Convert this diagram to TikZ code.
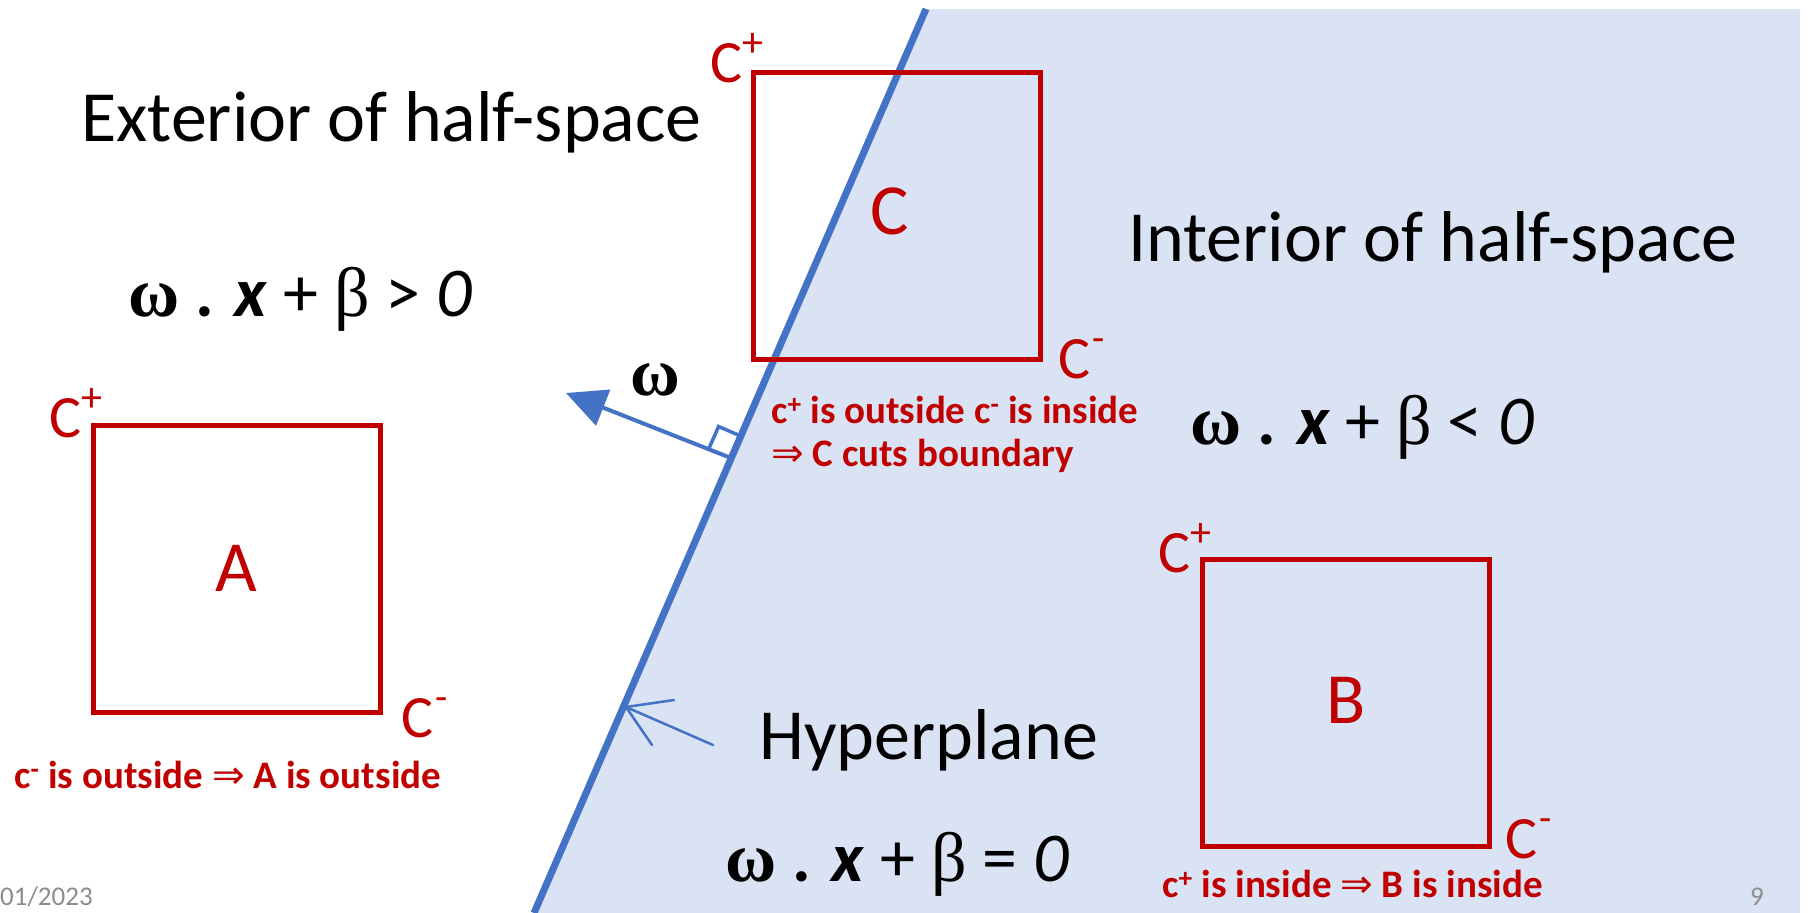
\documentclass[tikz,border=0pt]{standalone}
\usepackage{fontspec}
\setmainfont{Carlito}
\newfontfamily\serifgreek{Liberation Serif}
\newfontfamily\arrowfont{DejaVu Sans}
\usetikzlibrary{arrows.meta}
\definecolor{boxred}{HTML}{C00000}
\definecolor{planeblue}{HTML}{4472C4}
\definecolor{halffill}{HTML}{DAE3F3}
\definecolor{footgray}{HTML}{8C8C8C}
\newcommand{\cplus}{C\raisebox{0.42em}{\fontsize{42}{42}\selectfont +}}
\newcommand{\cminus}{C\kern2pt\raisebox{0.45em}{\fontsize{40}{40}\selectfont -}}
\newcommand{\implies}{{\arrowfont\mdseries ⇒}}
\newcommand{\eqline}[1]{{\serifgreek\bfseries ω} \textbf{.} \textbf{\textit{x}} + {\serifgreek β} #1 \textit{0}}
\begin{document}
\begin{tikzpicture}[x=1pt,y=-1pt,
  bigtext/.style={anchor=base west, inner sep=0pt, font=\fontsize{72}{80}\selectfont},
  eqtext/.style={anchor=base west, inner sep=0pt, font=\fontsize{70}{78}\selectfont},
  note/.style={anchor=base west, inner sep=0pt, text=boxred, font=\fontsize{39}{44}\selectfont\bfseries},
  corner/.style={anchor=base west, inner sep=0pt, text=boxred, font=\fontsize{60}{66}\selectfont},
  region/.style={draw=boxred, line width=5pt, minimum width=287pt, minimum height=287pt, inner sep=0pt,
                 text=boxred, font=\fontsize{72}{80}\selectfont},
  plane/.style={draw=planeblue, line width=7pt},
  normalarrow/.style={draw=planeblue, line width=4pt, -{Triangle[length=40pt,width=38pt]}},
  pointer/.style={draw=planeblue, line width=2.5pt, line cap=round},
  foot/.style={text=footgray, inner sep=0pt, font=\fontsize{27}{30}\selectfont}
]
\useasboundingbox (0,0) rectangle (1818,913);
\fill[white] (0,0) rectangle (1818,913);
\fill[halffill] (926,9) -- (1800,9) -- (1800,913) -- (534,913) -- cycle;

% hyperplane
\coordinate (ptop) at (926,9);
\coordinate (pbot) at (534,913);
\draw[plane] (ptop) -- (pbot);

% boxes with their letters
\node[region] (boxC) at (897,215.5) {\raisebox{8pt}{C\kern14pt}};
\node[region] (boxA) at (236.5,568.5) {A};
\node[region] (boxB) at (1346,703) {\raisebox{5pt}{B}};

\node[corner] (cpC) at (710,82) {\cplus};
\node[corner] (cmC) at (1058,378) {\cminus};
\node[corner] (cpA) at (49,437) {\cplus};
\node[corner] (cmA) at (401,737) {\cminus};
\node[corner] (cpB) at (1158,572) {\cplus};
\node[corner] (cmB) at (1505,858) {\cminus};

% titles
\node[bigtext] (ext) at (81,141) {Exterior of half-space};
\node[bigtext] (int) at (1128,261) {Interior of half-space};
\node[bigtext] (hyp) at (759,759) {Hyperplane};

% equations
\node[eqtext] (eqA) at (128,316) {\eqline{>}};
\node[eqtext] (eqB) at (1190,444) {\eqline{<}};
\node[eqtext] (eqC) at (725,881) {\eqline{=}};

% notes
\node[note] (nC1) at (771,423) {c\textsuperscript{+} is outside c\textsuperscript{-} is inside};
\node[note] (nC2) at (771,466) {\implies{} C cuts boundary};
\node[note] (nA) at (14,788) {c\textsuperscript{-} is outside \implies{} A is outside};
\node[note] (nB) at (1162,897) {c\textsuperscript{+} is inside \implies{} B is inside};

% normal vector omega
\coordinate (wbase) at (731,458);
\coordinate (wtip) at (566,393);
\draw[normalarrow] (wbase) -- (wtip);
\coordinate (sq1) at (740.6,436);
\coordinate (sq2) at (718.6,426.5);
\coordinate (sq3) at (709,448.4);
\draw[planeblue, line width=3.5pt] (sq1) -- (sq2) -- (sq3);
\node[inner sep=0pt, font=\fontsize{68}{72}\selectfont\serifgreek\bfseries] (wlab) at (655,380) {ω};

% pointer to hyperplane
\coordinate (htip) at (626,707);
\coordinate (htail) at (713,745);
\coordinate (harm1) at (674,700);
\coordinate (harm2) at (652,745);
\draw[pointer] (htail) -- (htip);
\draw[pointer] (harm1) -- (htip) -- (harm2);

% footer
\node[foot, anchor=base west] (date) at (0,905) {01/2023};
\node[foot, anchor=base] (page) at (1757,905) {9};
\end{tikzpicture}
\end{document}
